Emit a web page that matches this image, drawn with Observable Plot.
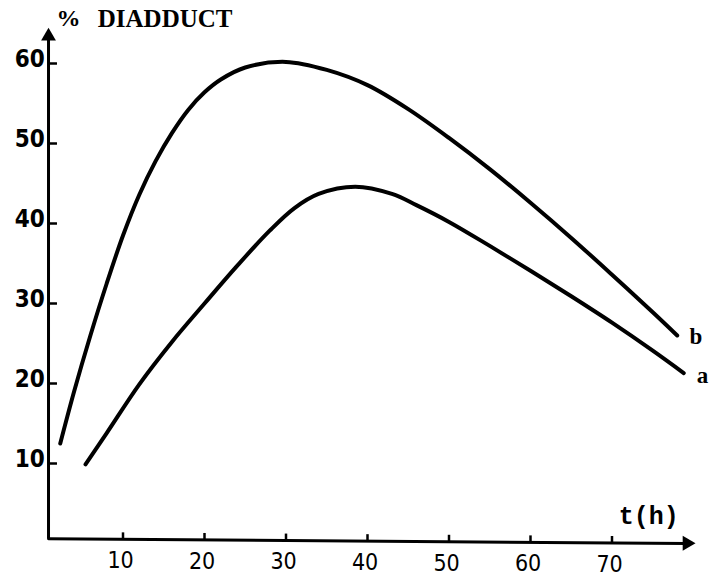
<!DOCTYPE html>
<html>
<head>
<meta charset="utf-8">
<script src="https://cdn.jsdelivr.net/npm/d3@7"></script>
<script src="https://cdn.jsdelivr.net/npm/@observablehq/plot@0.6"></script>
<style>
  html, body { margin: 0; padding: 0; background: #fff; }
  svg { display: block; }
</style>
</head>
<body>
<div id="chart"></div>
<script>
// Curve b (upper)
const tB = [2.3, 4, 6, 8, 10, 12, 14, 16, 18, 20, 22, 25, 30, 35, 40, 45, 50, 55, 60, 65, 70, 75, 78];
const vB = [12.5, 19.0, 26.0, 32.5, 38.5, 43.6, 47.8, 51.3, 54.2, 56.4, 58.0, 59.5, 60.2, 59.2, 57.3, 54.3, 50.7, 46.8, 42.6, 38.2, 33.6, 28.9, 26.0];
// Curve a (lower)
const tA = [5.4, 8, 12, 16, 20, 24, 28, 31, 34, 38.5, 43, 46, 50, 55, 60, 65, 70, 75, 78.8];
const vA = [9.9, 13.8, 19.9, 25.2, 30.0, 34.7, 39.1, 41.9, 43.7, 44.6, 43.7, 42.3, 40.2, 37.2, 34.1, 30.9, 27.6, 24.1, 21.3];

const xTicks = [10, 20, 30, 40, 50, 60, 70];
const yTicks = [10, 20, 30, 40, 50, 60];
const seriesLabels = ["b", "a"];
const xLabel = "t(h)";
const yLabel = "DIADDUCT";

const ptsB = tB.map((t, i) => ({t, v: vB[i], s: "b"}));
const ptsA = tA.map((t, i) => ({t, v: vA[i], s: "a"}));

// axis geometry (in data units)
const axX0 = 0.86;           // y-axis position in t
const axLeftV = 0.6, axRightV = 0.0, axRightT = 80;
const axisV = t => axLeftV + (axRightV - axLeftV) * (t - axX0) / (axRightT - axX0);

const serif = "'Liberation Serif', serif";
const numFont = "'DejaVu Sans Condensed', 'DejaVu Sans', sans-serif";

const chart = Plot.plot({
  width: 719,
  height: 582,
  margin: 0,
  x: {domain: [0, 80], range: [41, 693], axis: null},
  y: {domain: [0, 60], range: [543, 63], axis: null},
  marks: [
    // axes
    Plot.ruleX([axX0], {y1: axLeftV, y2: 63.6, stroke: "black", strokeWidth: 3}),
    Plot.line([{t: axX0, v: axLeftV}, {t: axRightT - 0.8, v: axRightV}], {x: "t", y: "v", stroke: "black", strokeWidth: 3}),
    Plot.dot([{t: axX0, v: 63.4}], {x: "t", y: "v", symbol: "triangle", r: 5.5, fill: "black", stroke: "none"}),
    Plot.dot([{t: 79.2, v: 0.03}], {x: "t", y: "v", symbol: "triangle", r: 5.5, fill: "black", stroke: "none", rotate: 90}),
    // ticks
    Plot.ruleY(yTicks, {y: d => d, x1: axX0, x2: axX0 + 1.1, stroke: "black", strokeWidth: 2.5}),
    Plot.ruleX(xTicks, {x: d => d, y1: d => axisV(d), y2: d => axisV(d) + 0.8, stroke: "black", strokeWidth: 2.5}),
    // tick labels
    Plot.text(yTicks, {x: 0.4, y: d => d + 0.5, text: d => String(d), textAnchor: "end",
      fontSize: 24, fontFamily: numFont, fontWeight: "bold", fill: "black"}),
    Plot.text(xTicks, {x: d => d - 0.3, y: d => axisV(d) - 2.7, text: d => String(d),
      fontSize: 23, fontFamily: numFont, fill: "black"}),
    // curves
    Plot.line(ptsB, {x: "t", y: "v", curve: "catmull-rom", stroke: "black", strokeWidth: 4}),
    Plot.line(ptsA, {x: "t", y: "v", curve: "catmull-rom", stroke: "black", strokeWidth: 4}),
    // curve labels
    Plot.text([seriesLabels[0]], {x: 79.5, y: 25.8, text: d => d, fontSize: 23, fontFamily: serif, fontWeight: "bold", textAnchor: "start", fill: "black"}),
    Plot.text([seriesLabels[1]], {x: 80.4, y: 21.0, text: d => d, fontSize: 23, fontFamily: serif, fontWeight: "bold", textAnchor: "start", fill: "black"}),
    // axis titles
    Plot.text([xLabel], {x: 74.5, y: 3.4, text: d => d, fontSize: 25, fontFamily: "'Liberation Mono', monospace", fontWeight: "bold", fill: "black"}),
    Plot.text(["%"], {x: 3.3, y: 65.6, text: d => d, fontSize: 24, fontFamily: serif, fontWeight: "bold", fill: "black"}),
    Plot.text([yLabel], {x: 6.9, y: 65.6, text: d => d, fontSize: 25, fontFamily: serif, fontWeight: "bold", textAnchor: "start", fill: "black"})
  ]
});
document.getElementById("chart").append(chart);
</script>
</body>
</html>
